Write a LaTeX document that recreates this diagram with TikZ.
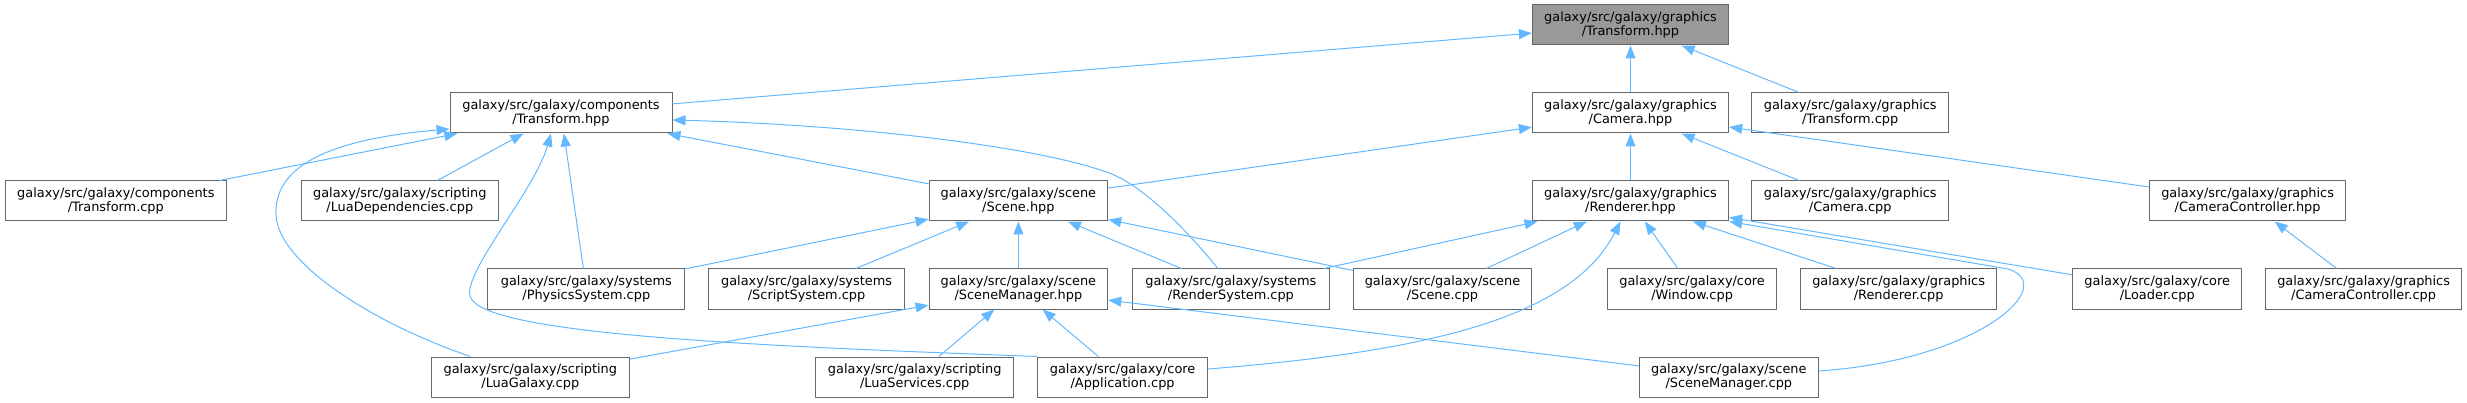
\documentclass[tikz,border=0pt]{standalone}
\usepackage{fontspec}
\setmainfont{DejaVu Sans}
\usetikzlibrary{arrows.meta}
\definecolor{edgeblue}{HTML}{63B8FF}
\definecolor{boxgray}{HTML}{666666}
\definecolor{rootfill}{HTML}{999999}
\begin{document}
\begin{tikzpicture}[x=1pt,y=-1pt,
  box/.style={draw=boxgray, line width=1pt, fill=white, minimum height=40pt,
    inner sep=0pt, align=center, font=\fontsize{12.9}{14.5}\selectfont},
  edge/.style={draw=edgeblue, line width=1pt,
    -{Triangle[length=13pt,width=10pt,fill=edgeblue]}}]
\useasboundingbox (0,0) rectangle (2467,403);

% row 0
\node[box, fill=rootfill, minimum width=196.3pt] (gth) at (1630.5,25) {galaxy/src/galaxy/graphics\\/Transform.hpp};
% row 1
\node[box, minimum width=222pt] (cth) at (561,113) {galaxy/src/galaxy/components\\/Transform.hpp};
\node[box, minimum width=196.3pt] (cam) at (1630.5,113) {galaxy/src/galaxy/graphics\\/Camera.hpp};
\node[box, minimum width=196.7pt] (gtc) at (1850.2,113) {galaxy/src/galaxy/graphics\\/Transform.cpp};
% row 2
\node[box, minimum width=221.2pt] (ctc) at (115.8,201) {galaxy/src/galaxy/components\\/Transform.cpp};
\node[box, minimum width=197.2pt] (luadep) at (399.8,201) {galaxy/src/galaxy/scripting\\/LuaDependencies.cpp};
\node[box, minimum width=178.7pt] (scene) at (1018.4,201) {galaxy/src/galaxy/scene\\/Scene.hpp};
\node[box, minimum width=196.3pt] (rend) at (1630.5,201) {galaxy/src/galaxy/graphics\\/Renderer.hpp};
\node[box, minimum width=196.7pt] (camcpp) at (1850.2,201) {galaxy/src/galaxy/graphics\\/Camera.cpp};
\node[box, minimum width=196.2pt] (camctrl) at (2247.6,201) {galaxy/src/galaxy/graphics\\/CameraController.hpp};
% row 3
\node[box, minimum width=196.7pt] (phys) at (586.3,289) {galaxy/src/galaxy/systems\\/PhysicsSystem.cpp};
\node[box, minimum width=196.4pt] (script) at (806.6,289) {galaxy/src/galaxy/systems\\/ScriptSystem.cpp};
\node[box, minimum width=178.7pt] (smh) at (1018.4,289) {galaxy/src/galaxy/scene\\/SceneManager.hpp};
\node[box, minimum width=196.3pt] (rsys) at (1230.9,289) {galaxy/src/galaxy/systems\\/RenderSystem.cpp};
\node[box, minimum width=178.4pt] (scenecpp) at (1442.5,289) {galaxy/src/galaxy/scene\\/Scene.cpp};
\node[box, minimum width=169.2pt] (window) at (1692.1,289) {galaxy/src/galaxy/core\\/Window.cpp};
\node[box, minimum width=196.1pt] (rendcpp) at (1898.6,289) {galaxy/src/galaxy/graphics\\/Renderer.cpp};
\node[box, minimum width=169.3pt] (loader) at (2157.2,289) {galaxy/src/galaxy/core\\/Loader.cpp};
\node[box, minimum width=196.2pt] (camctrlcpp) at (2363.6,289) {galaxy/src/galaxy/graphics\\/CameraController.cpp};
% row 4
\node[box, minimum width=197.7pt] (luagalaxy) at (530.3,377) {galaxy/src/galaxy/scripting\\/LuaGalaxy.cpp};
\node[box, minimum width=197.7pt] (luaserv) at (914.7,377) {galaxy/src/galaxy/scripting\\/LuaServices.cpp};
\node[box, minimum width=169.9pt] (app) at (1122.6,377) {galaxy/src/galaxy/core\\/Application.cpp};
\node[box, minimum width=179pt] (smcpp) at (1728.8,377) {galaxy/src/galaxy/scene\\/SceneManager.cpp};

% straight edges
\draw[edge] (cth) -- (gth);
\draw[edge] (cam) -- (gth);
\draw[edge] (gtc) -- (gth);
\draw[edge] (ctc) -- (cth);
\draw[edge] (luadep) -- (cth);
\draw[edge] (phys) -- (cth);
\draw[edge] (scene) -- (cth);
\draw[edge] (scene) -- (cam);
\draw[edge] (rend) -- (cam);
\draw[edge] (camcpp) -- (cam);
\draw[edge] (camctrl) -- (cam);
\draw[edge] (phys) -- (scene);
\draw[edge] (script) -- (scene);
\draw[edge] (smh) -- (scene);
\draw[edge] (rsys) -- (scene);
\draw[edge] (scenecpp) -- (scene);
\draw[edge] (rsys) -- (rend);
\draw[edge] (scenecpp) -- (rend);
\draw[edge] (window) -- (rend);
\draw[edge] (rendcpp) -- (rend);
\draw[edge] (loader) -- (rend);
\draw[edge] (camctrlcpp) -- (camctrl);
\draw[edge] (luagalaxy) -- (smh);
\draw[edge] (luaserv) -- (smh);
\draw[edge] (app) -- (smh);
\draw[edge] (smcpp) -- (smh);

% curved edges
\draw[edge] ([xshift=-60pt]luagalaxy.north) .. controls (370,322) and (278,262) .. (276,215)
  .. controls (274,170) and (320,140) .. ([yshift=-16pt]cth.west);
\draw[edge] (app.north west) .. controls (760,346) and (480,335) .. (470,296)
  .. controls (464,271) and (535,190) .. ([xshift=-10pt]cth.south);
\draw[edge] ([xshift=-13pt]rsys.north) .. controls (1195,240) and (1148,188) .. (1110,173.3)
  .. controls (1040,147) and (860,125) .. ([yshift=-7pt]cth.east);
\draw[edge] ([yshift=8pt]app.east) .. controls (1420,352) and (1570,320) .. ([xshift=-10pt]rend.south);
\draw[edge] ([yshift=6pt]smcpp.east) .. controls (1980,360) and (2060,285) .. (2008,269)
  -- (rend.south east);
\end{tikzpicture}
\end{document}
